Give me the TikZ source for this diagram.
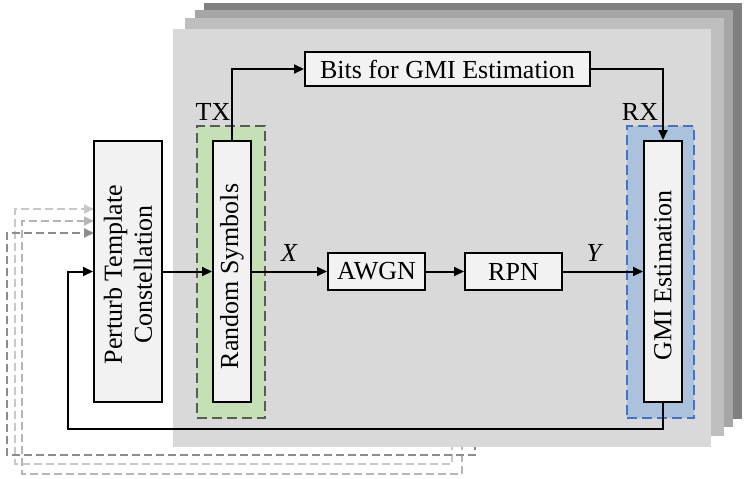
\documentclass[tikz,border=0pt]{standalone}
\usepackage{fontspec}
\setmainfont{Liberation Serif}
\usetikzlibrary{arrows.meta}
\definecolor{boxfill}{HTML}{F2F2F2}
\definecolor{txfill}{HTML}{C5E0B4}
\definecolor{txdraw}{HTML}{5A5A5A}
\definecolor{rxfill}{HTML}{ABC2DD}
\definecolor{rxdraw}{HTML}{4472C4}
\definecolor{layerA}{HTML}{D9D9D9}
\definecolor{layerB}{HTML}{BFBFBF}
\definecolor{layerC}{HTML}{A6A6A6}
\definecolor{layerD}{HTML}{808080}
\definecolor{fbA}{HTML}{C9C9C9}
\definecolor{fbB}{HTML}{B5B5B5}
\definecolor{fbC}{HTML}{8C8C8C}
\begin{document}
\begin{tikzpicture}[x=1pt,y=-1pt,
  every node/.style={font=\fontsize{26}{30}\selectfont, inner sep=0pt},
  blk/.style={draw=black, line width=2pt, fill=boxfill, minimum width=#1},
  grp/.style={dash pattern=on 10pt off 5pt, line width=2pt, minimum width=#1},
  arr/.style={line width=2pt, -{Triangle[length=10pt,width=9pt]}},
  fb/.style={line width=2pt, dash pattern=on 8pt off 4pt, draw=#1, -{Triangle[length=10pt,width=9pt]}},
  vtext/.style={rotate=90, yshift=0pt}
]
\useasboundingbox (0,0) rectangle (747,479);
% dashed feedback lines (behind the layers)
\coordinate (fa0) at (452,430);
\coordinate (fa1) at (94,209);
\coordinate (fb0) at (462,430);
\coordinate (fb1) at (94,221);
\coordinate (fc0) at (475,430);
\coordinate (fc1) at (94,233);
\draw[fb=fbA] (fa0) -- (452,464) -- (15,464) -- (15,209) -- (fa1);
\draw[fb=fbB] (fb0) -- (462,474) -- (22,474) -- (22,221) -- (fb1);
\draw[fb=fbC] (fc0) -- (475,455) -- (7,455) -- (7,233) -- (fc1);
% stacked layers
\fill[layerD] (204,3) rectangle (742,419);
\fill[layerC] (195,10) rectangle (733,427);
\fill[layerB] (185,18) rectangle (724,436);
\fill[layerA] (173,29) rectangle (711,447);
% group boxes
\node[grp=68pt, draw=txdraw, fill=txfill, minimum height=292pt] (tx) at (231,272) {};
\node[grp=67pt, draw=rxdraw, fill=rxfill, minimum height=292pt] (rx) at (660.5,272) {};
\node (txl) at (213,112) {TX};
\node (rxl) at (640,112) {RX};
% blocks
\node[blk=68pt, minimum height=261pt] (perturb) at (128,271.5) {};
\node[rotate=90, align=center] (perturbt) at ([yshift=-3pt]perturb.center) {Perturb Template\\Constellation};
\node[blk=38pt, minimum height=261pt] (rs) at (232,271.5) {};
\node[rotate=90] (rst) at ([yshift=-5pt]rs.center) {Random Symbols};
\node[blk=38pt, minimum height=261pt] (gmi) at (663,271.5) {};
\node[rotate=90] (gmit) at ([yshift=-4pt]gmi.center) {GMI Estimation};
\node[blk=285pt, minimum height=34pt] (bits) at (447.5,69) {Bits for GMI Estimation};
\node[blk=97pt, minimum height=37pt] (awgn) at (376.5,271.5) {AWGN};
\node[blk=97pt, minimum height=37pt] (rpn) at (513.5,271.5) {RPN};
% connectors
\draw[arr] (rs.north) |- (bits.west);
\draw[arr] (bits.east) -| (gmi.north);
\draw[arr] (perturb.east) -- (rs.west);
\draw[arr] (rs.east) -- node[above=9pt] {\textit{X}} (awgn.west);
\draw[arr] (awgn.east) -- (rpn.west);
\draw[arr] (rpn.east) -- node[pos=0.4, above=9pt] {\textit{Y}} (gmi.west);
\coordinate (fbl) at (68,429);
\draw[arr] (gmi.south) |- (fbl) |- (perturb.west);
\end{tikzpicture}
\end{document}
